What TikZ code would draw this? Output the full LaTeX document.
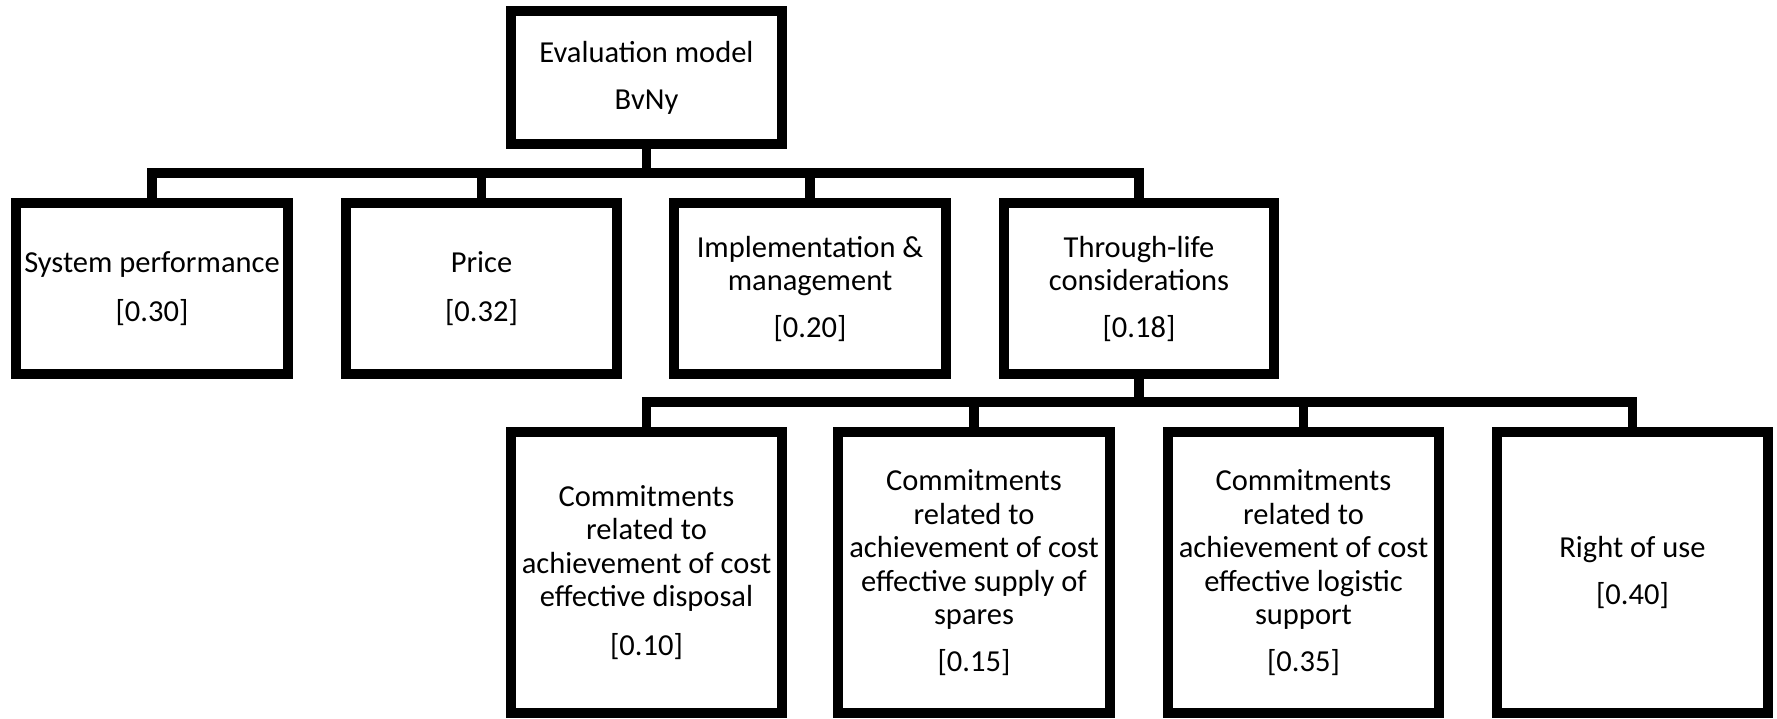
\documentclass[tikz,border=0pt]{standalone}
\usepackage{fontspec}
\setmainfont{Carlito}
\begin{document}
\begin{tikzpicture}[x=1pt,y=-1pt,
  box/.style={draw=black, line width=9.5pt, inner sep=0pt, outer sep=0pt,
    align=center, text=black, font=\fontsize{30.5}{33.5}\selectfont},
  lvlone/.style={box, minimum height=171pt},
  lvltwo/.style={box, minimum height=281pt},
  conn/.style={draw=black, line width=9.5pt}]
\useasboundingbox (0,0) rectangle (1777,718);
% root
\node[box, minimum width=271pt, minimum height=133pt] (root) at (646.5,77.5)
  {Evaluation model\\[13.5pt]BvNy};
% first level
\node[lvlone, minimum width=272pt] (b1) at (152,288.5)
  {System performance\\[15pt]{[0.30]}};
\node[lvlone, minimum width=271pt] (b2) at (481.5,288.5)
  {Price\\[15pt]{[0.32]}};
\node[lvlone, minimum width=272pt] (b3) at (810,288.5)
  {Implementation \&\\management\\[13pt]{[0.20]}};
\node[lvlone, minimum width=270pt] (b4) at (1139,288.5)
  {Through-life\\considerations\\[13pt]{[0.18]}};
% second level
\node[lvltwo, minimum width=271pt] (c1) at (646.5,572.5)
  {Commitments\\related to\\achievement of cost\\effective disposal\\[15pt]{[0.10]}};
\node[lvltwo, minimum width=272pt] (c2) at (974,572.5)
  {Commitments\\related to\\achievement of cost\\effective supply of\\spares\\[13pt]{[0.15]}};
\node[lvltwo, minimum width=271pt] (c3) at (1303.5,572.5)
  {Commitments\\related to\\achievement of cost\\effective logistic\\support\\[13pt]{[0.35]}};
\node[lvltwo, minimum width=271pt] (c4) at (1632.5,572.5)
  {Right of use\\[13pt]{[0.40]}};
% bars
\coordinate (barone) at (0,173);
\coordinate (bartwo) at (0,402);
% upper connectors
\draw[conn] (b1.north) -- (b1.north |- barone) -- (b4.north |- barone) -- (b4.north);
\draw[conn] (root.south) -- (root.south |- barone);
\draw[conn] (b2.north) -- (b2.north |- barone);
\draw[conn] (b3.north) -- (b3.north |- barone);
% lower connectors
\draw[conn] (c1.north) -- (c1.north |- bartwo) -- (c4.north |- bartwo) -- (c4.north);
\draw[conn] (b4.south) -- (b4.south |- bartwo);
\draw[conn] (c2.north) -- (c2.north |- bartwo);
\draw[conn] (c3.north) -- (c3.north |- bartwo);
\end{tikzpicture}
\end{document}
